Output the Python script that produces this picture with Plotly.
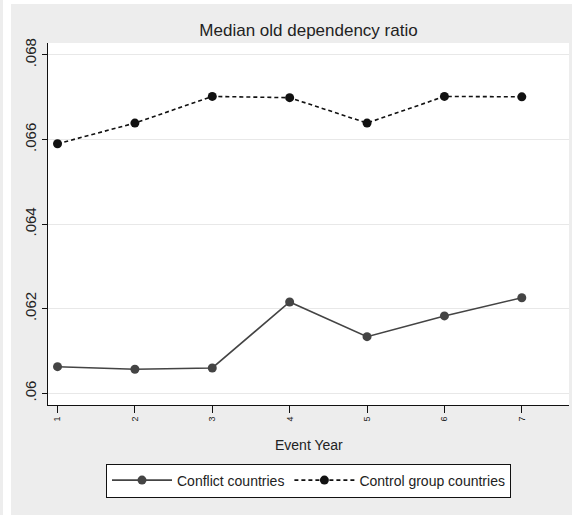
import plotly.graph_objects as go

event_year = [1, 2, 3, 4, 5, 6, 7]
conflict = [0.06063, 0.06057, 0.06060, 0.06216, 0.06134, 0.06183, 0.06226]
control = [0.06590, 0.06639, 0.06702, 0.06699, 0.06639, 0.06702, 0.06701]
y_ticks = [0.060, 0.062, 0.064, 0.066, 0.068]
y_tick_text = [".06", ".062", ".064", ".066", ".068"]
title_text = "Median old dependency ratio"
x_title = "Event Year"
names = ["Conflict countries", "Control group countries"]

FONT = "Liberation Sans, Arial, sans-serif"
W, H = 572, 515
L, R, T, B = 48, 3, 43, 110
PH = H - T - B

def py(pix):
    return (H - B - pix) / PH

fig = go.Figure()
fig.add_trace(go.Scatter(
    x=event_year, y=conflict, name=names[0], mode="lines+markers",
    line=dict(color="#444444", width=1.6, dash="solid"),
    marker=dict(color="#444444", size=9, symbol="circle"),
))
fig.add_trace(go.Scatter(
    x=event_year, y=control, name=names[1], mode="lines+markers",
    line=dict(color="#111111", width=1.6, dash="4px,3px"),
    marker=dict(color="#111111", size=9, symbol="circle"),
))

# white frame strips of the outer region
fig.add_shape(type="rect", xref="paper", yref="paper",
              x0=(3 - L) / (W - L - R), x1=(11 - L) / (W - L - R),
              y0=py(H + 5), y1=py(-5), fillcolor="white", line_width=0, layer="below")
fig.add_shape(type="rect", xref="paper", yref="paper",
              x0=(3 - L) / (W - L - R), x1=(W + 5 - L) / (W - L - R),
              y0=py(4), y1=py(-5), fillcolor="white", line_width=0, layer="below")

fig.add_annotation(text=x_title, xref="paper", yref="paper", x=0.5, y=py(445),
                   xanchor="center", yanchor="middle", showarrow=False,
                   font=dict(family=FONT, size=14, color="#222222"))

fig.update_layout(
    width=W, height=H,
    margin=dict(l=L, r=R, t=T, b=B),
    paper_bgcolor="#ededed", plot_bgcolor="white",
    title=dict(text=title_text, x=0.5, xref="paper", xanchor="center",
               y=1 - 30 / H, yanchor="middle",
               font=dict(family=FONT, size=17, color="#222222")),
    font=dict(family=FONT, color="#222222"),
    showlegend=True,
    legend=dict(orientation="h", x=0.5, xanchor="center", y=py(463.5), yanchor="top",
                bgcolor="white", bordercolor="#111111", borderwidth=1,
                font=dict(family=FONT, size=14, color="#222222"),
                itemwidth=60, itemclick=False),
    xaxis=dict(range=[0.877, 7.61], tickmode="array", tickvals=event_year,
               ticktext=[str(v) for v in event_year], tickangle=-90,
               tickfont=dict(family=FONT, size=9, color="#222222"),
               ticks="outside", ticklen=7, tickcolor="#111111", tickwidth=1,
               showline=True, linecolor="#111111", linewidth=1,
               showgrid=False, zeroline=False, fixedrange=True),
    yaxis=dict(range=[0.059724, 0.068283], tickmode="array", tickvals=y_ticks,
               ticktext=y_tick_text, tickangle=-90,
               tickfont=dict(family=FONT, size=15, color="#222222"),
               ticks="outside", ticklen=5, tickcolor="#111111", tickwidth=1,
               showline=True, linecolor="#111111", linewidth=1,
               showgrid=True, gridcolor="#e8e8e8", gridwidth=1,
               zeroline=False, fixedrange=True),
)

fig.write_html("out.html")
